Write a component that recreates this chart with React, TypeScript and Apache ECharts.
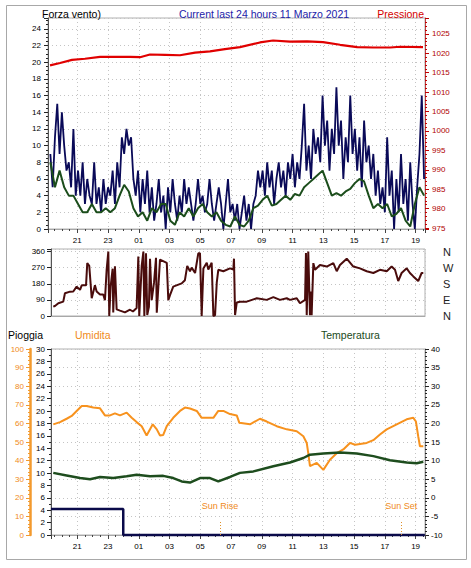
import React, { useEffect, useRef } from 'react';
import * as echarts from 'echarts';

const FONT = 'Liberation Sans, Arial, sans-serif';

// ---- time axis: hours elapsed since 19:00 (10 Mar 2021) ----
const hourTicks = [2, 4, 6, 8, 10, 12, 14, 16, 18, 20, 22, 24];
const startHour = 19;

// ---- wind gust (navy), sampled every 0.15 h from 0.25 h ----
const gustStart = 0.25;
const gustStep = 0.15;
const gustValues = [
  9, 5, 11, 15, 9, 14,
  10, 7, 8, 5, 12, 4,
  7, 4, 8, 3, 6, 4, 3,
  8, 3, 5, 2, 6, 3, 5,
  4, 7, 3, 8, 5, 11, 9, 12, 10, 11, 6,
  4, 7, 2, 6, 3, 7, 2, 5, 1,
  3, 6, 2, 4, 0, 5, 2, 6, 3, 1, 4, 2, 6,
  3, 5, 3, 1, 3, 6, 3, 4, 2, 3, 6, 3, 1, 3, 5, 3, 0, 3, 6, 2, 3, 1,
  3, 0, 2, 4, 1, 3, 0, 3, 4, 7, 5,
  7, 4, 8, 5, 7, 3, 6, 8, 5, 7, 4, 8,
  6, 9, 5, 8, 6, 10, 15, 7,
  10, 6, 12, 9, 11, 8, 16, 10, 13, 7, 12, 9, 17, 10,
  13, 6, 11, 8, 16, 9, 12, 7, 11, 5, 13, 8, 10, 6,
  9, 4, 7, 3, 5, 2, 11, 4, 7, 0, 6, 2, 9, 3, 6, 1, 8, 3, 0, 5, 9, 16, 6,
];

// ---- average wind (green), sampled every 0.3 h from 0.25 h ----
const avgStart = 0.25;
const avgStep = 0.3;
const avgValues = [
  8, 5, 7, 5, 4, 4, 3, 2, 2, 3,
  2, 2, 2.5, 2, 2.5, 4, 5.3, 4.5, 2.5, 1.5,
  2, 1, 2.5, 2, 3, 3, 1, 0.5, 2, 1.5,
  2.5, 1.5, 2.5, 3, 2, 1.5, 2, 1, 0.5, 0.3,
  1.5, 0.5, 0.3, 1, 2.5, 2.8, 3.5, 4, 2.8, 3,
  3.5, 4, 3.5, 4.2, 4, 5, 5.5, 6, 6.5, 7,
  5.5, 4, 4.3, 4, 4.5, 4.8, 5.5, 6, 5.7, 4,
  2.5, 3, 2.5, 3, 1.5, 1.8, 2.5, 1, 0.3, 3,
  5, 4,
];

// ---- pressure (red) ----
const pressTimes = [0.23, 0.88, 1.66, 2.5, 3.48, 4.45, 5.43, 6.08, 6.73, 7.7, 8.68, 9.66, 10.63, 11.6, 12.58, 13.88, 14.73, 15.83, 16.94, 17.98, 19.09, 20.2, 21.24, 22.35, 23.0, 24.48];
const pressValues = [1016.9, 1017.5, 1018.3, 1018.6, 1019.1, 1019.1, 1019.1, 1019.0, 1019.7, 1019.6, 1019.5, 1020.2, 1020.5, 1021.1, 1021.6, 1022.8, 1023.3, 1023.0, 1023.1, 1022.9, 1022.2, 1021.6, 1021.5, 1021.5, 1021.7, 1021.6];

// ---- wind direction (degrees) ----
const dirTimes = [0.44, 0.55, 0.77, 1.09, 1.2, 1.53, 1.74, 1.96, 2.18, 2.29, 2.57, 2.65, 2.78, 2.94, 3.15, 3.26, 3.48, 3.69, 3.8, 3.91, 4.02, 4.08, 4.17, 4.3, 4.34, 4.45, 4.56, 4.78, 5.1, 5.43, 5.62, 5.86, 5.97, 6.03, 6.19, 6.3, 6.36, 6.47, 6.55, 6.66, 6.73, 6.84, 6.99, 7.12, 7.17, 7.38, 7.82, 7.92, 8.03, 8.24, 8.79, 9.0, 9.15, 9.33, 9.44, 9.66, 9.87, 9.98, 10.09, 10.2, 10.42, 10.52, 10.74, 10.85, 10.96, 11.07, 11.17, 11.5, 11.93, 12.15, 12.19, 12.26, 12.37, 12.58, 13.02, 13.67, 14.32, 14.75, 15.18, 15.62, 15.83, 16.27, 16.48, 16.81, 16.87, 16.92, 17.02, 17.13, 17.18, 17.24, 17.35, 17.46, 17.78, 18.22, 18.65, 18.87, 19.08, 19.52, 19.95, 20.38, 20.82, 21.25, 21.68, 22.12, 22.44, 22.66, 22.87, 23.09, 23.42, 23.63, 23.85, 24.17, 24.39, 24.5];
const dirValues = [52, 56, 71, 80, 127, 136, 137, 164, 146, 171, 171, 295, 280, 99, 171, 137, 120, 120, 88, 258, 360, 0, 164, 264, 20, 277, 37, 30, 20, 35, 25, 45, 332, 0, 280, 360, 0, 350, 5, 52, 320, 88, 186, 325, 18, 315, 297, 88, 116, 164, 182, 200, 280, 250, 270, 240, 350, 350, 0, 265, 297, 260, 297, 0, 5, 186, 258, 250, 266, 260, 320, 5, 75, 80, 80, 99, 90, 105, 90, 99, 90, 99, 71, 90, 351, 5, 360, 5, 137, 5, 295, 258, 285, 276, 295, 250, 285, 320, 276, 266, 250, 240, 258, 250, 276, 258, 195, 240, 266, 240, 221, 195, 240, 240];

// ---- humidity (%) ----
const humTimes = [0.44, 0.88, 1.31, 1.64, 1.96, 2.29, 2.61, 3.04, 3.48, 3.8, 4.13, 4.45, 4.78, 5.21, 5.54, 5.86, 6.19, 6.51, 6.91, 7.17, 7.38, 7.59, 7.82, 8.24, 8.68, 9.0, 9.33, 9.77, 10.09, 10.42, 10.85, 11.17, 11.5, 11.93, 12.37, 12.54, 13.23, 13.88, 14.32, 14.97, 15.62, 16.27, 16.7, 16.92, 17.02, 17.13, 17.57, 18.0, 18.43, 18.87, 19.3, 19.73, 20.06, 20.82, 21.25, 21.68, 22.12, 22.77, 23.42, 23.85, 24.02, 24.17, 24.28, 24.5];
const humValues = [59.5, 60.7, 62.5, 64, 66.7, 69.4, 69.4, 68.5, 68.1, 64.3, 64.3, 65.4, 64.3, 65.8, 63, 60.7, 58.5, 53.5, 59.5, 56.8, 53.5, 53.8, 58.5, 63, 66.7, 68.5, 68, 66.7, 63, 63, 63, 66.7, 66.7, 65, 64.3, 60.3, 59.5, 62.5, 61, 58.5, 56.8, 55.8, 53.1, 49.5, 44, 37, 38.8, 35, 40.5, 44, 46, 49.5, 48.5, 49.5, 51, 54, 56.8, 59.5, 62.2, 63, 61, 53, 47.7, 47.7];

// ---- temperature (°C) ----
const tempTimes = [0.44, 1.31, 2.18, 2.83, 3.48, 4.34, 5.21, 5.86, 6.73, 7.59, 8.24, 8.79, 9.33, 9.98, 10.63, 11.17, 11.93, 12.58, 13.45, 14.75, 15.83, 16.7, 17.13, 18.0, 19.08, 20.17, 21.25, 22.33, 23.42, 24.07, 24.5];
const tempValues = [6.7, 6.0, 5.3, 5.0, 5.6, 5.3, 5.8, 6.2, 5.8, 5.9, 5.3, 4.4, 4.1, 5.3, 5.3, 4.4, 5.6, 6.7, 7.1, 8.5, 9.5, 10.7, 11.6, 11.9, 12.2, 11.9, 11.2, 10.1, 9.5, 9.3, 9.7];

// ---- rain (mm) ----
const rainTimes = [0.29, 4.99, 24.6];
const rainValues = [4.2, 0, 0];

// ---- sun events ----
const sunTimes = [11.28, 23.07];
const sunLabels = ['Sun Rise', 'Sun Set'];

const dirNames: Record<number, string> = { 0: 'N', 90: 'E', 180: 'S', 270: 'W', 360: 'N' };

const pair = (ts: number[], vs: number[]) => ts.map((t, i) => [t, vs[i]]);

const hourFmt = (v: number) => {
  const r = Math.round(v);
  if (Math.abs(v - r) > 1e-6 || hourTicks.indexOf(r) < 0) return '';
  return String((startHour + r) % 24).padStart(2, '0');
};
const multFmt = (step: number) => (v: number) => {
  const r = Math.round(v / step) * step;
  return Math.abs(v - r) > 1e-6 ? '' : String(r);
};

const X_PX0 = 46.5;
const X_PPH = 15.38;
const toHour = (px: number) => (px - X_PX0) / X_PPH;
const X_MAX = toHour(425);

const gridLine = { show: true, lineStyle: { color: '#c4c4c4', type: [1, 3] as any, width: 1 } };

const xAxisFor = (gridIndex: number, leftPx: number, labels: boolean) => ({
  type: 'value',
  gridIndex,
  min: toHour(leftPx),
  max: X_MAX,
  splitNumber: 12,
  minInterval: 2,
  maxInterval: 2,
  axisLine: { show: true, lineStyle: { color: '#a8a8a8' } },
  axisTick: { show: labels, length: 4, lineStyle: { color: '#444' } },
  minorTick: { show: labels, splitNumber: 4, length: 2, lineStyle: { color: '#444' } },
  axisLabel: { show: labels, formatter: hourFmt, fontSize: 8, color: '#000', margin: 7, fontFamily: FONT },
  splitLine: gridLine,
});

export default function App() {
  const ref = useRef<HTMLDivElement>(null);
  useEffect(() => {
    document.body.style.margin = '0';
    if (!ref.current) return;
    const chart = echarts.init(ref.current, undefined, { renderer: 'svg' });
    const labelBase = { fontSize: 8, fontFamily: FONT };
    const option: any = {
      animation: false,
      backgroundColor: '#ffffff',
      grid: [
        { left: 48, top: 18, width: 377, height: 211, show: true, borderColor: '#b0b0b0', borderWidth: 1, backgroundColor: '#fff' },
        { left: 51, top: 249, width: 374, height: 67, show: true, borderColor: '#b0b0b0', borderWidth: 1, backgroundColor: '#fff' },
        { left: 51, top: 349, width: 374, height: 186, show: true, borderColor: '#b0b0b0', borderWidth: 1, backgroundColor: '#fff' },
      ],
      xAxis: [xAxisFor(0, 48, true), xAxisFor(1, 51, false), xAxisFor(2, 51, true)],
      yAxis: [
        {
          type: 'value', gridIndex: 0, position: 'left', min: 0, max: 25.3, splitNumber: 12, minInterval: 2, maxInterval: 2,
          axisLine: { show: true, lineStyle: { color: '#555' } },
          axisTick: { show: true, length: 4, lineStyle: { color: '#222' } },
          minorTick: { show: true, splitNumber: 4, length: 2, lineStyle: { color: '#222' } },
          axisLabel: { ...labelBase, color: '#000', margin: 7, formatter: multFmt(2) },
          splitLine: gridLine,
        },
        {
          type: 'value', gridIndex: 0, position: 'right', min: 974.75, max: 1029.1, splitNumber: 11, minInterval: 5, maxInterval: 5,
          axisLine: { show: true, lineStyle: { color: '#c04040' } },
          axisTick: { show: true, length: 4, lineStyle: { color: '#c00000' } },
          minorTick: { show: true, splitNumber: 5, length: 2, lineStyle: { color: '#c00000' } },
          axisLabel: { ...labelBase, color: '#b00000', margin: 7, formatter: multFmt(5) },
          splitLine: { show: false },
        },
        {
          type: 'value', gridIndex: 1, position: 'left', min: 0, max: 374, interval: 90,
          axisLine: { show: true, lineStyle: { color: '#555' } },
          axisTick: { show: true, length: 4, lineStyle: { color: '#222' } },
          axisLabel: { ...labelBase, color: '#000', margin: 6, formatter: multFmt(90) },
          splitLine: gridLine,
        },
        {
          type: 'value', gridIndex: 1, position: 'right', min: 0, max: 374, interval: 90,
          axisLine: { show: false },
          axisTick: { show: false },
          axisLabel: {
            fontSize: 11, fontFamily: FONT, color: '#222', margin: 18,
            formatter: (v: number) => (dirNames[Math.round(v)] !== undefined && Math.abs(v - Math.round(v)) < 1e-6 ? dirNames[Math.round(v)] : ''),
          },
          splitLine: { show: false },
        },
        {
          type: 'value', gridIndex: 2, position: 'left', min: 0, max: 30, interval: 2,
          axisLine: { show: true, lineStyle: { color: '#555' } },
          axisTick: { show: true, length: 4, lineStyle: { color: '#222' } },
          minorTick: { show: true, splitNumber: 2, length: 2, lineStyle: { color: '#222' } },
          axisLabel: { ...labelBase, color: '#000', margin: 6 },
          splitLine: { show: false },
        },
        {
          type: 'value', gridIndex: 2, position: 'left', offset: 21, min: 0, max: 100, interval: 10,
          axisLine: { show: true, lineStyle: { color: '#f39a2e', width: 2.5 } },
          axisTick: { show: true, length: 4, lineStyle: { color: '#f39a2e' } },
          minorTick: { show: true, splitNumber: 5, length: 2, lineStyle: { color: '#f39a2e' } },
          axisLabel: { ...labelBase, color: '#f08a1a', margin: 6 },
          splitLine: { show: false },
        },
        {
          type: 'value', gridIndex: 2, position: 'right', min: -10, max: 40, interval: 5,
          axisLine: { show: true, lineStyle: { color: '#888' } },
          axisTick: { show: true, length: 4, lineStyle: { color: '#222' } },
          minorTick: { show: true, splitNumber: 5, length: 2, lineStyle: { color: '#222' } },
          axisLabel: { ...labelBase, color: '#000', margin: 6 },
          splitLine: gridLine,
        },
      ],
      series: [
        {
          name: 'Raffica', type: 'line', xAxisIndex: 0, yAxisIndex: 0, symbol: 'none', clip: false,
          lineStyle: { color: '#0a0a58', width: 1.8 },
          data: gustValues.map((v, i) => [gustStart + i * gustStep, v]),
        },
        {
          name: 'Vento medio', type: 'line', xAxisIndex: 0, yAxisIndex: 0, symbol: 'none', clip: false,
          lineStyle: { color: '#1b4d1b', width: 2 },
          data: avgValues.map((v, i) => [avgStart + i * avgStep, v]),
        },
        {
          name: 'Pressione', type: 'line', xAxisIndex: 0, yAxisIndex: 1, symbol: 'none', clip: false,
          lineStyle: { color: '#e00000', width: 2.2 },
          data: pair(pressTimes, pressValues),
        },
        {
          name: 'Direzione', type: 'line', xAxisIndex: 1, yAxisIndex: 2, symbol: 'none', clip: false,
          lineStyle: { color: '#4a0c0c', width: 2 },
          data: pair(dirTimes, dirValues),
        },
        {
          name: 'Umidita', type: 'line', xAxisIndex: 2, yAxisIndex: 5, symbol: 'none', clip: false,
          lineStyle: { color: '#f7921e', width: 2 },
          data: pair(humTimes, humValues),
        },
        {
          name: 'Temperatura', type: 'line', xAxisIndex: 2, yAxisIndex: 6, symbol: 'none', clip: false,
          lineStyle: { color: '#1e4d1e', width: 2.5 },
          data: pair(tempTimes, tempValues),
          markLine: {
            silent: true, symbol: 'none',
            lineStyle: { color: '#e0902a', type: [1, 2] as any, width: 1 },
            label: { show: true, position: 'end', distance: 10, color: '#f08a1a', fontSize: 9, fontFamily: FONT },
            data: sunTimes.map((t, i) => [
              { coord: [t, -10], name: sunLabels[i], label: { formatter: sunLabels[i] } },
              { coord: [t, -6.2] },
            ]),
          },
        },
        {
          name: 'Pioggia', type: 'line', xAxisIndex: 2, yAxisIndex: 4, step: 'end', symbol: 'none', clip: false,
          lineStyle: { color: '#0a0a4a', width: 2.5 },
          data: pair(rainTimes, rainValues),
        },
      ],
      graphic: [
        { type: 'rect', shape: { x: 6.5, y: 5.5, width: 460, height: 554 }, style: { fill: 'none', stroke: '#a8a8a8', lineWidth: 1 }, silent: true },
        { type: 'text', x: 42, y: 14, style: { text: 'Forza vento)', fill: '#000', font: `10.5px ${FONT}`, verticalAlign: 'middle', align: 'left' } },
        { type: 'text', x: 264, y: 14, style: { text: 'Current last 24 hours 11 Marzo 2021', fill: '#1c1ca8', font: `10.5px ${FONT}`, verticalAlign: 'middle', align: 'center' } },
        { type: 'text', x: 424, y: 14, style: { text: 'Pressione', fill: '#d40000', font: `10.5px ${FONT}`, verticalAlign: 'middle', align: 'right' } },
        { type: 'text', x: 8, y: 335, style: { text: 'Pioggia', fill: '#000', font: `10.5px ${FONT}`, verticalAlign: 'middle', align: 'left' } },
        { type: 'text', x: 75, y: 335, style: { text: 'Umidita', fill: '#f08a1a', font: `10.5px ${FONT}`, verticalAlign: 'middle', align: 'left' } },
        { type: 'text', x: 321, y: 335, style: { text: 'Temperatura', fill: '#1a4a1a', font: `10.5px ${FONT}`, verticalAlign: 'middle', align: 'left' } },
      ],
    };
    chart.setOption(option);
    return () => chart.dispose();
  }, []);
  return <div ref={ref} style={{ width: 471, height: 568 }} />;
}
